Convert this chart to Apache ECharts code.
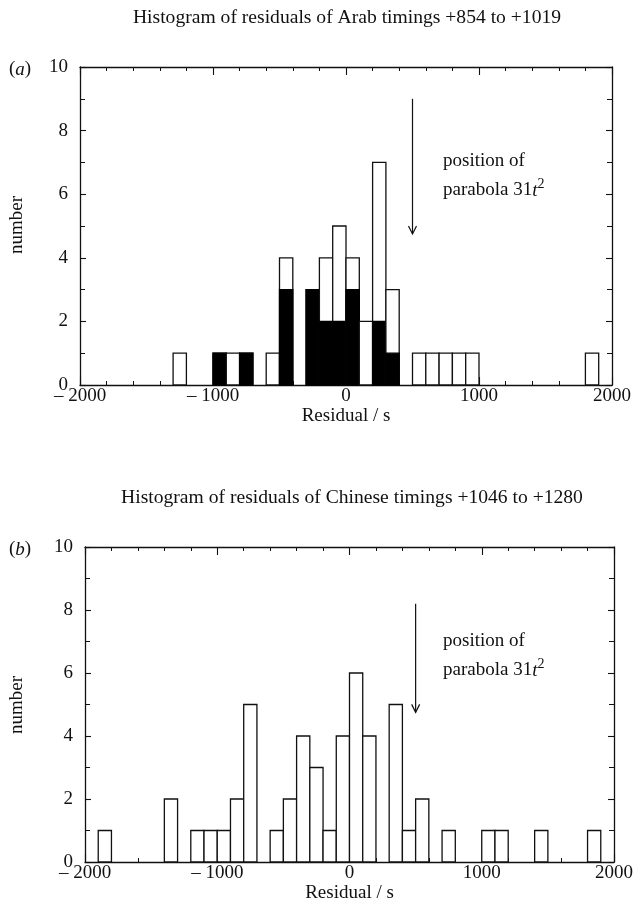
<!DOCTYPE html>
<html>
<head>
<meta charset="utf-8">
<script src="https://cdn.jsdelivr.net/npm/echarts@6/dist/echarts.min.js"></script>
<style>
html,body{margin:0;padding:0;background:#fff;}
#chart{width:637px;height:921px;}
</style>
</head>
<body>
<div id="chart"></div>
<script>
// ---- data ----
const BIN = 100;
// Panel (a): Arab timings — bin start (s), total count, black (filled) part
const arabBinStart = [-1300, -1000, -900, -800, -600, -500, -300, -200, -100, 0, 100, 200, 300, 500, 600, 700, 800, 900, 1800];
const arabTotal    = [1, 1, 1, 1, 1, 4, 3, 4, 5, 4, 2, 7, 3, 1, 1, 1, 1, 1, 1];
const arabBlack    = [0, 1, 0, 1, 0, 3, 3, 2, 2, 3, 0, 2, 1, 0, 0, 0, 0, 0, 0];
// Panel (b): Chinese timings
const chineseBinStart = [-1900, -1400, -1200, -1100, -1000, -900, -800, -600, -500, -400, -300, -200, -100, 0, 100, 300, 400, 500, 700, 1000, 1100, 1400, 1800];
const chineseTotal    = [1, 2, 1, 1, 1, 2, 5, 1, 2, 4, 3, 1, 4, 6, 4, 5, 1, 2, 1, 1, 1, 1, 1];
// parabola position arrow (x in s, y from -> to)
const arrowA = [500, 9.0, 4.75];
const arrowB = [500, 8.2, 4.75];
const xTicks = [-2000, -1000, 0, 1000, 2000];

const titleA = 'Histogram of residuals of Arab timings +854 to +1019';
const titleB = 'Histogram of residuals of Chinese timings +1046 to +1280';

const FONT = '"Liberation Serif", "DejaVu Serif", serif';
const FS = 19;
const TFS = 19.6;

const gridA = {left: 80, top: 67, width: 532, height: 318};
const gridB = {left: 85, top: 547, width: 529, height: 315};

function histItem(params, api) {
  const x0 = api.value(0), x1 = x0 + BIN, y = api.value(1), yb = api.value(2);
  const p0 = api.coord([x0, 0]);
  const p1 = api.coord([x1, y]);
  const children = [{
    type: 'rect',
    shape: {x: p0[0], y: p1[1], width: p1[0] - p0[0], height: p0[1] - p1[1]},
    style: {fill: '#fff', stroke: '#111', lineWidth: 1.3}
  }];
  if (yb > 0) {
    const pb = api.coord([x1, yb]);
    children.push({
      type: 'rect',
      shape: {x: p0[0], y: pb[1], width: pb[0] - p0[0], height: p0[1] - pb[1]},
      style: {fill: '#000', stroke: '#000', lineWidth: 1.3}
    });
  }
  return {type: 'group', children};
}

function arrowItem(params, api) {
  const top = api.coord([api.value(0), api.value(1)]);
  const bot = api.coord([api.value(0), api.value(2)]);
  const st = {stroke: '#111', lineWidth: 1.2, fill: 'none'};
  return {type: 'group', children: [
    {type: 'line', shape: {x1: top[0], y1: top[1], x2: bot[0], y2: bot[1]}, style: st},
    {type: 'polyline', shape: {points: [[bot[0] - 4, bot[1] - 8], [bot[0], bot[1]], [bot[0] + 4, bot[1] - 8]]}, style: st}
  ]};
}

function xFmt(v) { return v < 0 ? '\u2013 ' + Math.abs(v) : String(v); }

function xAxes(gi) {
  const common = {
    type: 'value', gridIndex: gi, min: xTicks[0], max: xTicks[xTicks.length - 1], interval: 1000,
    axisLine: {show: true, onZero: false, lineStyle: {color: '#111', width: 1.3}},
    axisTick: {show: true, inside: true, length: 8, lineStyle: {color: '#111', width: 1.1}},
    minorTick: {show: true, splitNumber: 5, length: 4, lineStyle: {color: '#111', width: 1}},
    splitLine: {show: false}
  };
  return [
    Object.assign({}, common, {
      position: 'bottom',
      name: 'Residual / s', nameLocation: 'middle', nameGap: 15,
      nameTextStyle: {fontFamily: FONT, fontSize: FS, color: '#111'},
      axisLabel: {fontFamily: FONT, fontSize: FS, color: '#111', margin: 2, formatter: xFmt}
    }),
    Object.assign({}, common, {position: 'top', axisLabel: {show: false}})
  ];
}
function yAxes(gi) {
  const common = {
    type: 'value', gridIndex: gi, min: 0, max: 10, interval: 2,
    axisLine: {show: true, onZero: false, lineStyle: {color: '#111', width: 1.3}},
    axisTick: {show: true, inside: true, length: 6, lineStyle: {color: '#111', width: 1.1}},
    minorTick: {show: true, splitNumber: 2, length: 5, lineStyle: {color: '#111', width: 1}},
    splitLine: {show: false}
  };
  return [
    Object.assign({}, common, {position: 'left',
      axisLabel: {fontFamily: FONT, fontSize: FS, color: '#111', margin: 12}}),
    Object.assign({}, common, {position: 'right', axisLabel: {show: false}})
  ];
}

const xa = xAxes(0), xb = xAxes(1), ya = yAxes(0), yb = yAxes(1);

const dataA = arabBinStart.map((s, i) => [s, arabTotal[i], arabBlack[i]]);
const dataB = chineseBinStart.map((s, i) => [s, chineseTotal[i], 0]);

const annotRich = {
  n: {fontFamily: FONT, fontSize: FS, color: '#111', verticalAlign: 'bottom', lineHeight: 22},
  it: {fontFamily: FONT, fontSize: FS, fontStyle: 'italic', color: '#111', verticalAlign: 'bottom', lineHeight: 22},
  sup: {fontFamily: FONT, fontSize: 14, color: '#111', verticalAlign: 'bottom', lineHeight: 14, padding: [0, 0, 9, 0]}
};

const option = {
  backgroundColor: '#fff',
  animation: false,
  grid: [
    Object.assign({containLabel: false}, gridA),
    Object.assign({containLabel: false}, gridB)
  ],
  xAxis: [xa[0], xa[1], xb[0], xb[1]],
  yAxis: [ya[0], ya[1], yb[0], yb[1]],
  series: [
    {type: 'custom', xAxisIndex: 0, yAxisIndex: 0, renderItem: histItem, data: dataA, clip: false},
    {type: 'custom', xAxisIndex: 2, yAxisIndex: 2, renderItem: histItem, data: dataB, clip: false},
    {type: 'custom', xAxisIndex: 0, yAxisIndex: 0, renderItem: arrowItem, data: [arrowA]},
    {type: 'custom', xAxisIndex: 2, yAxisIndex: 2, renderItem: arrowItem, data: [arrowB]}
  ],
  graphic: [
    {type: 'text', x: 347, y: 18, style: {text: titleA, fontFamily: FONT, fontSize: TFS, fill: '#111', align: 'center', verticalAlign: 'middle'}},
    {type: 'text', x: 352, y: 498, style: {text: titleB, fontFamily: FONT, fontSize: TFS, fill: '#111', align: 'center', verticalAlign: 'middle'}},
    {type: 'text', x: 9, y: 68, style: {text: '{n|(}{it|a}{n|)}', rich: annotRich, fontFamily: FONT, fontSize: FS, fill: '#111', verticalAlign: 'middle'}},
    {type: 'text', x: 9, y: 548, style: {text: '{n|(}{it|b}{n|)}', rich: annotRich, fontFamily: FONT, fontSize: FS, fill: '#111', verticalAlign: 'middle'}},
    {type: 'text', x: 17, y: 225, rotation: Math.PI / 2, style: {text: 'number', fontFamily: FONT, fontSize: FS, fill: '#111', align: 'center', verticalAlign: 'middle'}},
    {type: 'text', x: 17, y: 705, rotation: Math.PI / 2, style: {text: 'number', fontFamily: FONT, fontSize: FS, fill: '#111', align: 'center', verticalAlign: 'middle'}},
    {type: 'text', x: 443, y: 161, style: {text: 'position of', fontFamily: FONT, fontSize: FS, fill: '#111', verticalAlign: 'middle'}},
    {type: 'text', x: 443, y: 189, style: {text: '{n|parabola 31}{it|t}{sup|2}', rich: annotRich, fontFamily: FONT, fontSize: FS, fill: '#111', verticalAlign: 'middle'}},
    {type: 'text', x: 443, y: 641, style: {text: 'position of', fontFamily: FONT, fontSize: FS, fill: '#111', verticalAlign: 'middle'}},
    {type: 'text', x: 443, y: 669, style: {text: '{n|parabola 31}{it|t}{sup|2}', rich: annotRich, fontFamily: FONT, fontSize: FS, fill: '#111', verticalAlign: 'middle'}}
  ]
};

const chart = echarts.init(document.getElementById('chart'), null, {renderer: 'canvas'});
chart.setOption(option);
</script>
</body>
</html>
